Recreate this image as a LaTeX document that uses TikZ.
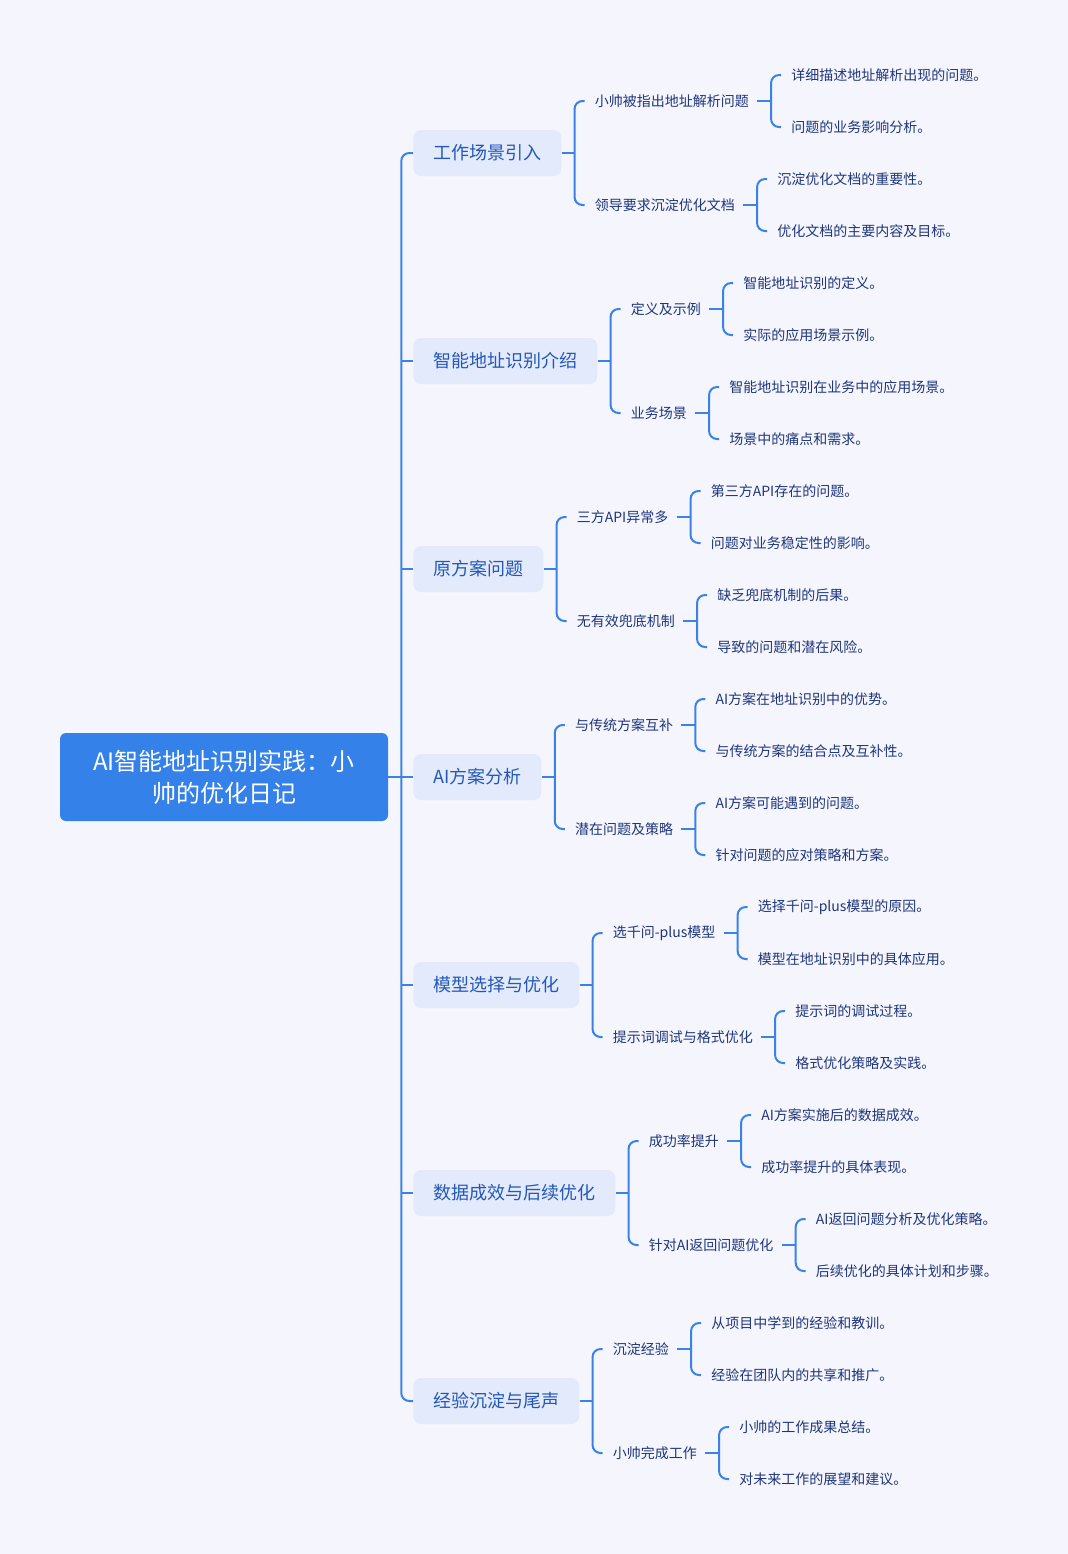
\documentclass[tikz,border=0pt]{standalone}
\usepackage{fontspec}
\newfontfamily\cjk{Noto Sans CJK SC}
\usetikzlibrary{calc}
\definecolor{bg}{HTML}{F4F5FD}
\definecolor{lc}{HTML}{3A82E8}
\definecolor{rootfill}{HTML}{3481EA}
\definecolor{l1fill}{HTML}{E2EAFC}
\definecolor{l1text}{HTML}{2458B8}
\definecolor{ltext}{HTML}{1F367A}
\tikzset{
 conn/.style={draw=lc, line width=1.5pt},
 rootbox/.style={fill=rootfill, text=white, rounded corners=4.5pt, minimum width=246pt, minimum height=66pt, align=center, inner sep=0pt, font=\cjk\fontsize{18}{24}\selectfont},
 lone/.style={anchor=west, fill=l1fill, text=l1text, rounded corners=6pt, minimum height=34.5pt, inner xsep=15pt, inner ysep=0pt, font=\cjk\fontsize{13.5}{16}\selectfont},
 ltwo/.style={anchor=west, inner sep=0pt, text=ltext, font=\cjk\fontsize{10.5}{12}\selectfont},
 lthree/.style={anchor=west, inner sep=0pt, text=ltext, font=\cjk\fontsize{10.5}{12}\selectfont},
}
\newcommand\mmfork[5]{%
 \draw[conn] ($(#1.east)+(#4,0)$) -- ($(#1.east)+(#5,0)$);
 \draw[conn,rounded corners=6pt] ($(#2.west)+(-10,0)$) -| ($(#1.east)+(#5,0)$) |- ($(#3.west)+(-10,0)$);
}
\begin{document}
\begin{tikzpicture}[x=0.75pt,y=-0.75pt]
\useasboundingbox[fill=bg] (0,0) rectangle (1068,1554);
\node[rootbox] (r) at (224,777) {AI智能地址识别实践：小\\帅的优化日记};
\coordinate (tx) at ($(r.east)+(13,0)$);

% ---- 1
\node[lone] (a) at (413,153) {工作场景引入};
\node[ltwo] (a1) at ($(a.east)+(33,-52)$) {小帅被指出地址解析问题};
\node[ltwo] (a2) at ($(a.east)+(33,52)$) {领导要求沉淀优化文档};
\node[lthree] (a11) at ($(a1.east)+(42,-26)$) {详细描述地址解析出现的问题。};
\node[lthree] (a12) at ($(a1.east)+(42,26)$) {问题的业务影响分析。};
\node[lthree] (a21) at ($(a2.east)+(42,-26)$) {沉淀优化文档的重要性。};
\node[lthree] (a22) at ($(a2.east)+(42,26)$) {优化文档的主要内容及目标。};
\mmfork{a}{a1}{a2}{0}{13}
\mmfork{a1}{a11}{a12}{8}{22}
\mmfork{a2}{a21}{a22}{8}{22}

% ---- 2
\node[lone] (b) at (413,361) {智能地址识别介绍};
\node[ltwo] (b1) at ($(b.east)+(33,-52)$) {定义及示例};
\node[ltwo] (b2) at ($(b.east)+(33,52)$) {业务场景};
\node[lthree] (b11) at ($(b1.east)+(42,-26)$) {智能地址识别的定义。};
\node[lthree] (b12) at ($(b1.east)+(42,26)$) {实际的应用场景示例。};
\node[lthree] (b21) at ($(b2.east)+(42,-26)$) {智能地址识别在业务中的应用场景。};
\node[lthree] (b22) at ($(b2.east)+(42,26)$) {场景中的痛点和需求。};
\mmfork{b}{b1}{b2}{0}{13}
\mmfork{b1}{b11}{b12}{8}{22}
\mmfork{b2}{b21}{b22}{8}{22}

% ---- 3
\node[lone] (c) at (413,569) {原方案问题};
\node[ltwo] (c1) at ($(c.east)+(33,-52)$) {三方API异常多};
\node[ltwo] (c2) at ($(c.east)+(33,52)$) {无有效兜底机制};
\node[lthree] (c11) at ($(c1.east)+(42,-26)$) {第三方API存在的问题。};
\node[lthree] (c12) at ($(c1.east)+(42,26)$) {问题对业务稳定性的影响。};
\node[lthree] (c21) at ($(c2.east)+(42,-26)$) {缺乏兜底机制的后果。};
\node[lthree] (c22) at ($(c2.east)+(42,26)$) {导致的问题和潜在风险。};
\mmfork{c}{c1}{c2}{0}{13}
\mmfork{c1}{c11}{c12}{8}{22}
\mmfork{c2}{c21}{c22}{8}{22}

% ---- 4
\node[lone] (d) at (413,777) {AI方案分析};
\node[ltwo] (d1) at ($(d.east)+(33,-52)$) {与传统方案互补};
\node[ltwo] (d2) at ($(d.east)+(33,52)$) {潜在问题及策略};
\node[lthree] (d11) at ($(d1.east)+(42,-26)$) {AI方案在地址识别中的优势。};
\node[lthree] (d12) at ($(d1.east)+(42,26)$) {与传统方案的结合点及互补性。};
\node[lthree] (d21) at ($(d2.east)+(42,-26)$) {AI方案可能遇到的问题。};
\node[lthree] (d22) at ($(d2.east)+(42,26)$) {针对问题的应对策略和方案。};
\mmfork{d}{d1}{d2}{0}{13}
\mmfork{d1}{d11}{d12}{8}{22}
\mmfork{d2}{d21}{d22}{8}{22}

% ---- 5
\node[lone] (e) at (413,985) {模型选择与优化};
\node[ltwo] (e1) at ($(e.east)+(33,-52)$) {选千问-plus模型};
\node[ltwo] (e2) at ($(e.east)+(33,52)$) {提示词调试与格式优化};
\node[lthree] (e11) at ($(e1.east)+(42,-26)$) {选择千问-plus模型的原因。};
\node[lthree] (e12) at ($(e1.east)+(42,26)$) {模型在地址识别中的具体应用。};
\node[lthree] (e21) at ($(e2.east)+(42,-26)$) {提示词的调试过程。};
\node[lthree] (e22) at ($(e2.east)+(42,26)$) {格式优化策略及实践。};
\mmfork{e}{e1}{e2}{0}{13}
\mmfork{e1}{e11}{e12}{8}{22}
\mmfork{e2}{e21}{e22}{8}{22}

% ---- 6
\node[lone] (f) at (413,1193) {数据成效与后续优化};
\node[ltwo] (f1) at ($(f.east)+(33,-52)$) {成功率提升};
\node[ltwo] (f2) at ($(f.east)+(33,52)$) {针对AI返回问题优化};
\node[lthree] (f11) at ($(f1.east)+(42,-26)$) {AI方案实施后的数据成效。};
\node[lthree] (f12) at ($(f1.east)+(42,26)$) {成功率提升的具体表现。};
\node[lthree] (f21) at ($(f2.east)+(42,-26)$) {AI返回问题分析及优化策略。};
\node[lthree] (f22) at ($(f2.east)+(42,26)$) {后续优化的具体计划和步骤。};
\mmfork{f}{f1}{f2}{0}{13}
\mmfork{f1}{f11}{f12}{8}{22}
\mmfork{f2}{f21}{f22}{8}{22}

% ---- 7
\node[lone] (g) at (413,1401) {经验沉淀与尾声};
\node[ltwo] (g1) at ($(g.east)+(33,-52)$) {沉淀经验};
\node[ltwo] (g2) at ($(g.east)+(33,52)$) {小帅完成工作};
\node[lthree] (g11) at ($(g1.east)+(42,-26)$) {从项目中学到的经验和教训。};
\node[lthree] (g12) at ($(g1.east)+(42,26)$) {经验在团队内的共享和推广。};
\node[lthree] (g21) at ($(g2.east)+(42,-26)$) {小帅的工作成果总结。};
\node[lthree] (g22) at ($(g2.east)+(42,26)$) {对未来工作的展望和建议。};
\mmfork{g}{g1}{g2}{0}{13}
\mmfork{g1}{g11}{g12}{8}{22}
\mmfork{g2}{g21}{g22}{8}{22}

% ---- trunk
\draw[conn,rounded corners=6pt] (a.west) -| (tx) |- (g.west);
\draw[conn] (r.east) -- (d.west);
\foreach \n in {b,c,e,f} { \draw[conn] (\n.west) -- (\n.west -| tx); }
\end{tikzpicture}
\end{document}
